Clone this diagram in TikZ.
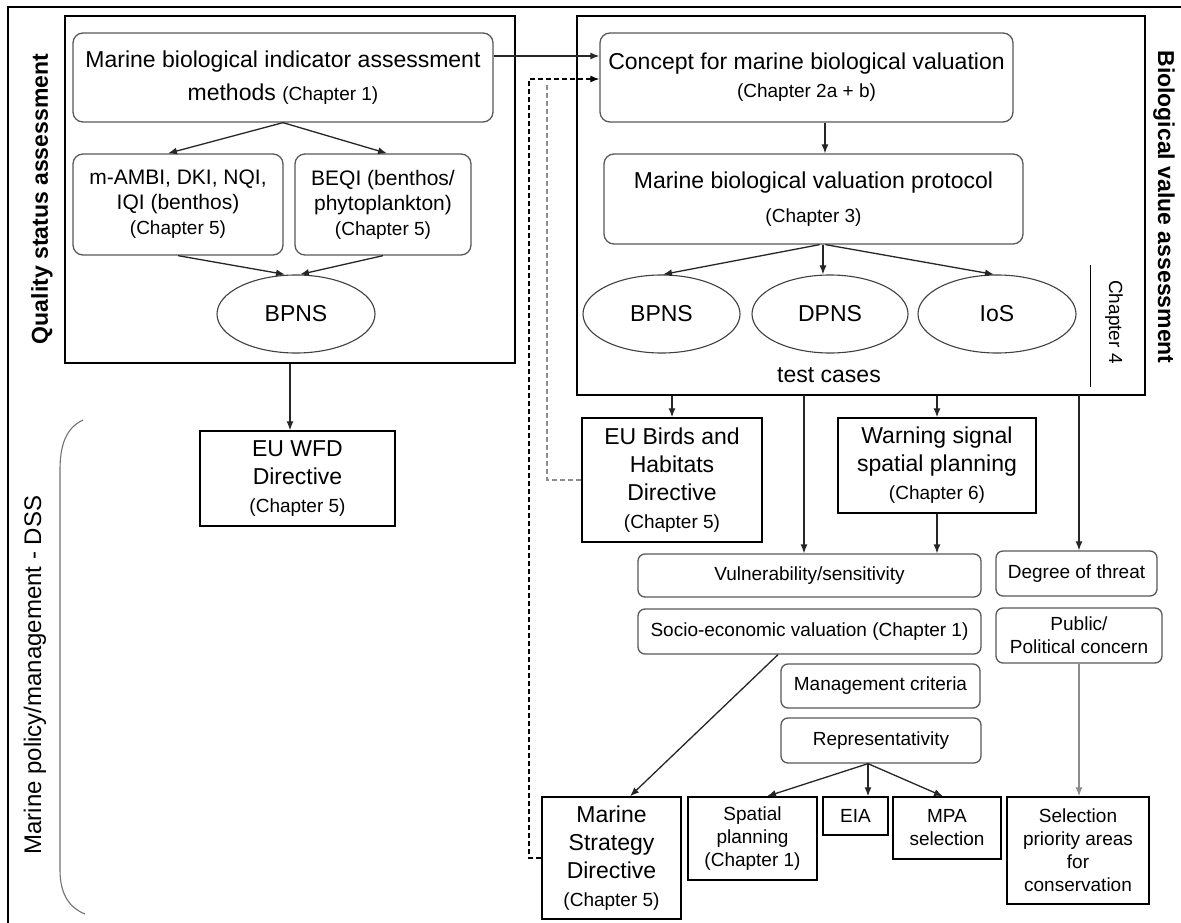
\documentclass[tikz,border=0pt]{standalone}
\usepackage{fontspec}
\setmainfont{Liberation Sans}
\usetikzlibrary{shapes.geometric,arrows.meta}
\newcommand\myA{\fontsize{23}{28}\selectfont}
\newcommand\myM{\fontsize{21}{25}\selectfont}
\newcommand\myB{\fontsize{19}{23}\selectfont}
\begin{document}
\begin{tikzpicture}[x=1pt,y=-1pt,
  rbox/.style={draw=black!65, line width=1.3pt, rounded corners=10pt, align=center, inner sep=0pt},
  srbox/.style={rbox, rounded corners=7pt, font=\myB},
  sbox/.style={draw=black, line width=1.4pt, align=center, inner sep=0pt},
  bigbox/.style={draw=black, line width=1.6pt, inner sep=0pt},
  ell/.style={draw=black!75, line width=1.1pt, ellipse, inner sep=0pt, font=\myA},
  arr/.style={draw=black!85, line width=1.3pt, -{Latex[length=9pt,width=7pt]}},
  lab/.style={font=\bfseries\myA, inner sep=0pt},
  dsh/.style={line width=1.2pt, dash pattern=on 5pt off 3pt}
]
\useasboundingbox (0,0) rectangle (1181,923);
\fill[white] (0,0) rectangle (1181,923);
\coordinate (fTL) at (8,7); \coordinate (fTR) at (1181,7); \coordinate (fBL) at (8,923);
\draw[line width=1.6pt] (fBL) -- (fTL) -- (fTR);

% ---------- group boxes ----------
\node[bigbox, minimum width=450pt, minimum height=347pt] (qbox) at (290,189.5) {};
\node[bigbox, minimum width=568pt, minimum height=379pt] (vbox) at (861,205.5) {};

% ---------- side labels ----------
\node[lab, rotate=90] (qsa) at (42,199) {Quality status assessment};
\node[lab, rotate=-90] (bva) at (1164,207) {Biological value assessment};
\node[rotate=90, font=\fontsize{24}{28}\selectfont, inner sep=0pt] (mpl) at (35,675) {Marine policy/management - DSS};
\draw[black!55, line width=1.1pt] (83,420) .. controls (66,428) and (60,445) .. (60,470) -- (60,870) .. controls (60,895) and (70,908) .. (85,914);

% ---------- quality status ----------
\node[rbox, font=\myA, minimum width=420pt, minimum height=89pt] (mbi) at (283,77.5) {Marine biological indicator assessment\\[5pt] methods {\myB (Chapter 1)}};
\node[rbox, font=\myM, minimum width=210pt, minimum height=101pt] (ambi) at (178,204.5) {m-AMBI, DKI, NQI,\\IQI (benthos)\\{\myB (Chapter 5)}};
\node[rbox, font=\myM, minimum width=176pt, minimum height=101pt] (beqi) at (383,204.5) {BEQI (benthos/\\phytoplankton)\\{\myB (Chapter 5)}};
\node[ell, minimum width=158pt, minimum height=78pt] (bpnsL) at (296,314) {BPNS};
\node[sbox, font=\myA, minimum width=195pt, minimum height=95pt] (wfd) at (297.5,478.5) {EU WFD\\Directive\\{\myB (Chapter 5)}};

% ---------- biological value ----------
\node[rbox, font=\myA, minimum width=413pt, minimum height=89pt] (concept) at (806.5,77.5) {Concept for marine biological valuation\\{\myB (Chapter 2a + b)}};
\node[rbox, font=\myA, minimum width=419pt, minimum height=90pt] (proto) at (813.5,199) {Marine biological valuation protocol\\[6pt]{\myB (Chapter 3)}};
\node[ell, minimum width=157pt, minimum height=78pt] (bpnsR) at (661.5,314) {BPNS};
\node[ell, minimum width=156pt, minimum height=78pt] (dpns) at (830,314) {DPNS};
\node[ell, minimum width=158pt, minimum height=78pt] (ios) at (997,314) {IoS};
\node[font=\myA, inner sep=0pt] (tc) at (829,375) {test cases};
\coordinate (c4a) at (1090,265); \coordinate (c4b) at (1090,387);
\draw[line width=1pt] (c4a) -- (c4b);
\node[rotate=-90, font=\myB, inner sep=0pt] (c4) at (1114,322) {Chapter 4};

% ---------- policy / management ----------
\node[sbox, font=\myA, minimum width=180pt, minimum height=124pt] (birds) at (672,480) {EU Birds and\\Habitats\\Directive\\{\myB (Chapter 5)}};
\node[sbox, font=\myA, minimum width=198pt, minimum height=95pt] (warn) at (937,465.5) {Warning signal\\spatial planning\\{\myB (Chapter 6)}};
\node[srbox, minimum width=343pt, minimum height=43pt] (vuln) at (809.5,575.5) {Vulnerability/sensitivity};
\node[srbox, minimum width=343pt, minimum height=45pt] (socio) at (809.5,631.5) {Socio-economic valuation (Chapter 1)};
\node[srbox, minimum width=199pt, minimum height=44pt] (mgmt) at (880.5,686) {Management criteria};
\node[srbox, minimum width=200pt, minimum height=45pt] (repr) at (881,740.5) {Representativity};
\node[srbox, minimum width=161pt, minimum height=45pt] (threat) at (1076.5,573.5) {Degree of threat};
\node[srbox, minimum width=166pt, minimum height=55pt] (public) at (1079,635.5) {Public/\\Political concern};
\node[sbox, font=\myA, minimum width=139pt, minimum height=122pt] (msd) at (611.5,858) {Marine\\Strategy\\Directive\\{\myB (Chapter 5)}};
\node[sbox, font=\myB, minimum width=129pt, minimum height=83pt] (spatial) at (752.5,838.5) {Spatial\\planning\\(Chapter 1)};
\node[sbox, font=\myB, minimum width=65pt, minimum height=38pt] (eia) at (855.5,816) {EIA};
\node[sbox, font=\myB, minimum width=108pt, minimum height=62pt] (mpa) at (947,828) {MPA\\selection};
\node[sbox, font=\myB, minimum width=142pt, minimum height=107pt] (sel) at (1078,850.5) {Selection\\priority areas\\for\\conservation};

% ---------- connectors ----------
\draw[arr] ([yshift=21.5pt]mbi.east) -- ([yshift=21.5pt]concept.west);
\draw[arr] (mbi.south) -- ([xshift=-10pt]ambi.north);
\draw[arr] (mbi.south) -- ([xshift=4pt]beqi.north);
\draw[arr] (ambi.south) -- ([xshift=-11pt]bpnsL.north);
\draw[arr] (beqi.south) -- ([xshift=4pt]bpnsL.north);
\draw[arr] (qbox.south) -- (qbox.south |- wfd.north);

\draw[arr] ([xshift=18.5pt]concept.south) -- ([xshift=18.5pt]concept.south |- proto.north);
\draw[arr] ([xshift=6pt]proto.south) -- ([xshift=1.5pt]bpnsR.north);
\draw[arr] ([xshift=9.5pt]proto.south) -- ([xshift=9.5pt]proto.south |- dpns.north);
\draw[arr] ([xshift=12pt]proto.south) -- ([xshift=-3pt]ios.north);

\coordinate (vl) at (804,395);
\coordinate (tl) at (1079,395);
\draw[arr] (vbox.south -| birds.north) -- (birds.north);
\draw[arr] (vl) -- (vl |- vuln.north);
\draw[arr] (vbox.south -| warn.north) -- (warn.north);
\draw[arr] (tl) -- (tl |- threat.north);
\draw[arr] (warn.south) -- (warn.south |- vuln.north);
\draw[arr] ([xshift=-31.5pt]socio.south) -- ([xshift=18.5pt]msd.north);
\draw[arr] ([xshift=-13pt]repr.south) -- ([xshift=14.5pt]spatial.north);
\draw[arr] ([xshift=-13pt]repr.south) -- ([xshift=-13pt]repr.south |- eia.north);
\draw[arr] ([xshift=-13pt]repr.south) -- ([xshift=-4pt]mpa.north);
\draw[arr, draw=black!45] (public.south) -- (public.south |- sel.north);

\coordinate (dA) at (529,79);
\coordinate (dB) at (547,84);
\draw[dsh, -{Latex[length=9pt,width=7pt]}] (msd.west) -| (dA) -- (dA -| concept.west);
\draw[dsh, draw=black!45] (birds.west) -| (dB);
\end{tikzpicture}
\end{document}
